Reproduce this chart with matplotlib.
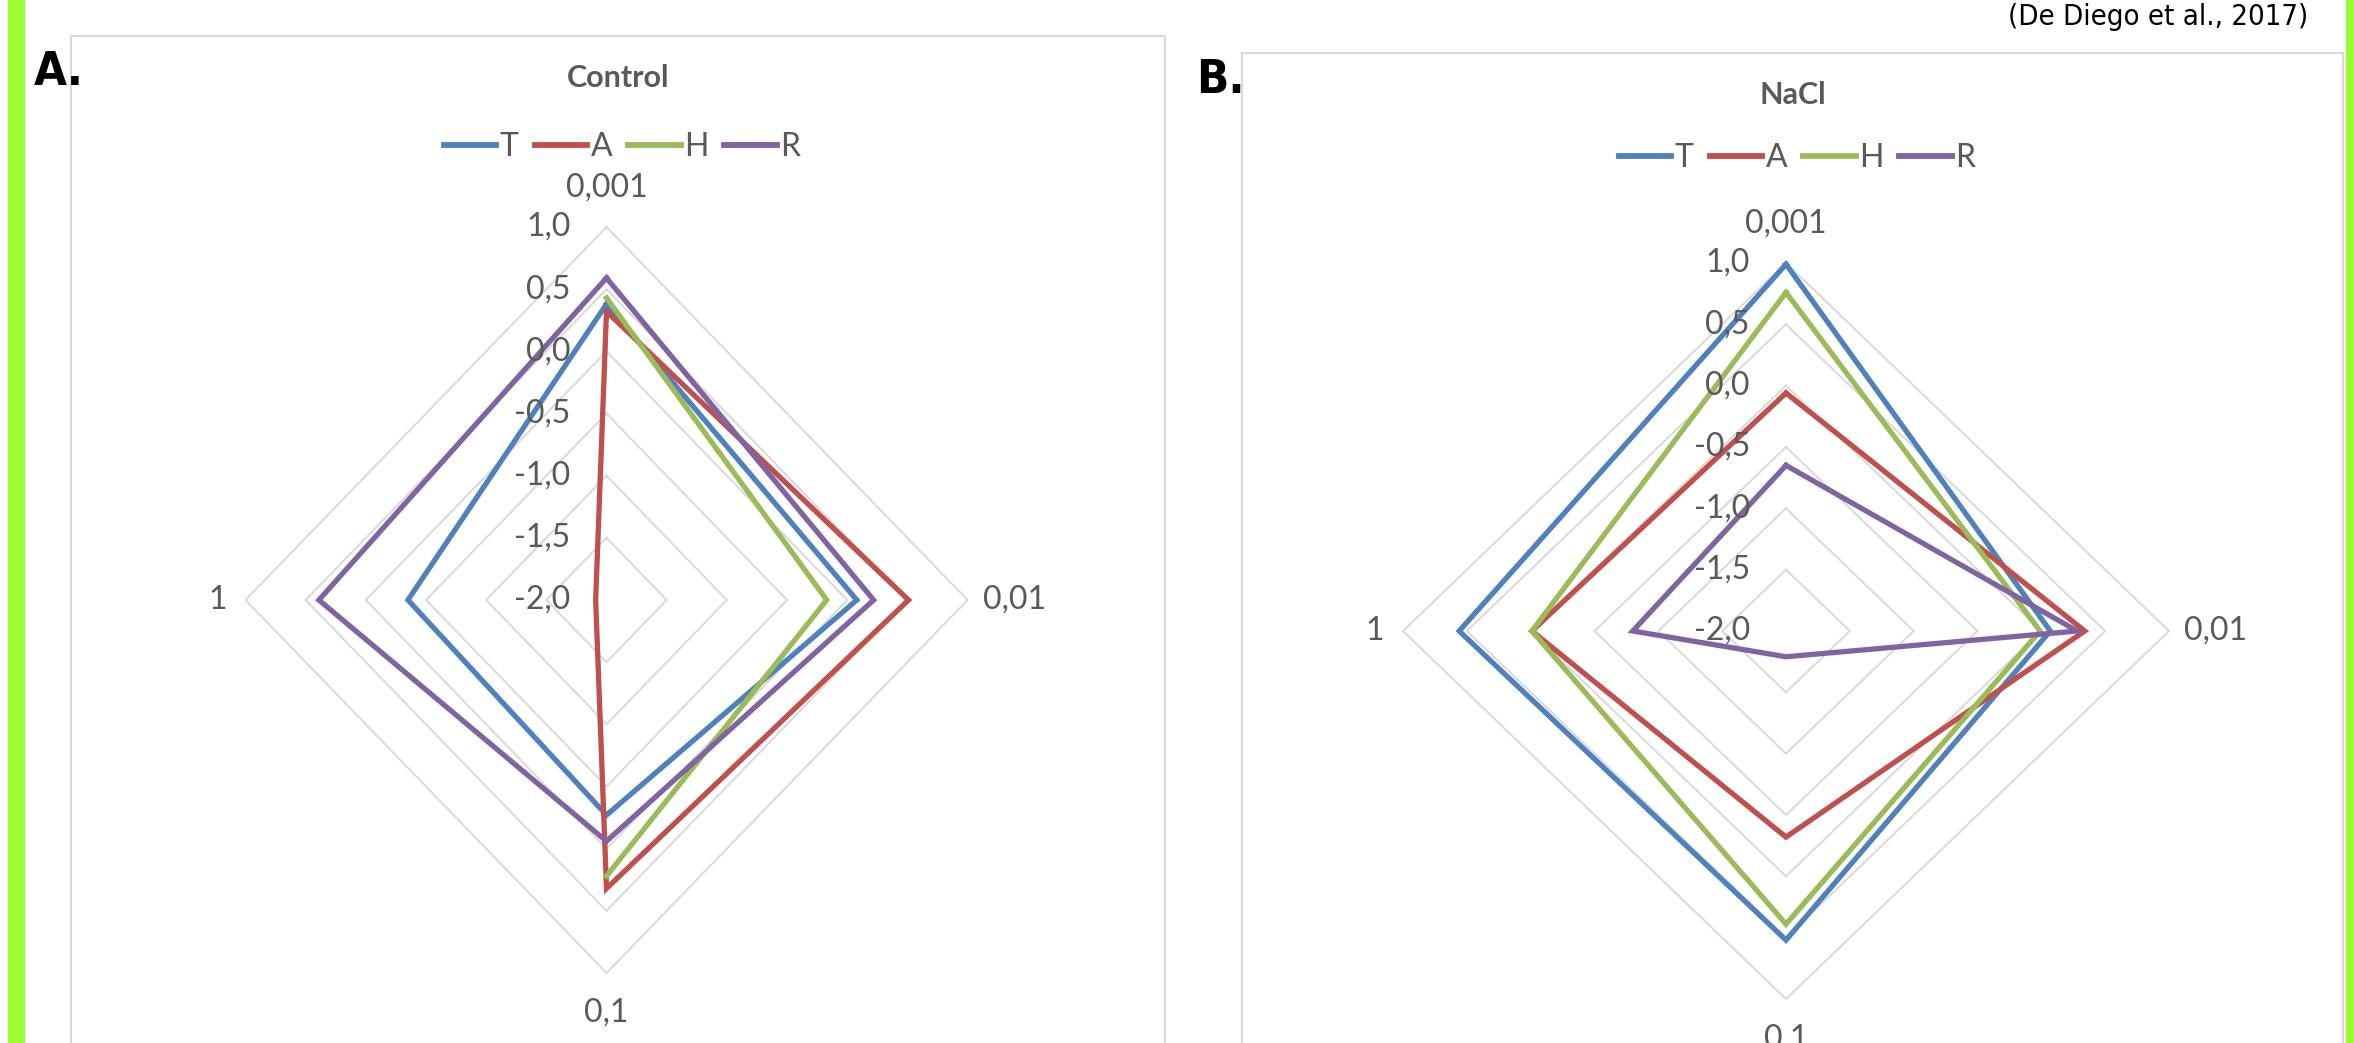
import numpy as np
import matplotlib.pyplot as plt
from matplotlib.patches import Rectangle

plt.rcParams['font.family'] = ['Lato', 'DejaVu Sans']

W, H = 2354, 1043

# data (axis minimum -2,0 at the centre)
categories = ['0,001', '0,01', '0,1', '1']
series = ['T', 'A', 'H', 'R']
colors = ['#4F81BD', '#C0504D', '#9BBB59', '#8064A2']

control_T = [0.38, 0.08, -0.27, -0.35]
control_A = [0.32, 0.51, 0.32, -1.91]
control_H = [0.43, -0.17, 0.22, np.nan]   # no value at "1"
control_R = [0.59, 0.22, -0.06, 0.39]

nacl_T = [0.99, 0.07, 0.52, 0.56]
nacl_A = [-0.06, 0.34, -0.32, -0.01]
nacl_H = [0.76, -0.01, 0.39, -0.01]
nacl_R = [-0.65, 0.28, -1.79, -0.80]

r_ticks = [-2.0, -1.5, -1.0, -0.5, 0.0, 0.5, 1.0]
r_ticklabels = ['-2,0', '-1,5', '-1,0', '-0,5', '0,0', '0,5', '1,0']

grey = '#595959'
gridgrey = '#D9D9D9'
lime = '#99FF33'


def fx(x):
    return x / W


def fy(y):
    return 1 - y / H


fig = plt.figure(figsize=(W / 100, H / 100), dpi=100)
fig.patch.set_facecolor('white')


def radar(cx, cy, rx, ry, title, data, title_pos, legend_pos):
    ax = fig.add_axes([fx(cx - rx), fy(cy + ry), 2 * rx / W, 2 * ry / H],
                      projection='polar')
    ax.set_aspect('auto')
    ax.set_theta_zero_location('N')
    ax.set_theta_direction(-1)
    theta = np.linspace(0, 2 * np.pi, len(categories) + 1)

    for v in r_ticks[1:]:
        ax.plot(theta, [v] * len(theta), color=gridgrey, lw=1.4, zorder=1,
                clip_on=False)

    for name, vals, c in zip(series, data, colors):
        ax.plot(theta, list(vals) + [vals[0]], color=c, lw=3.8, label=name,
                solid_joinstyle='miter', zorder=3, clip_on=False)

    ax.set_ylim(r_ticks[0], r_ticks[-1])
    ax.grid(False)
    ax.set_xticks([])
    ax.set_yticks([])
    ax.spines['polar'].set_visible(False)
    ax.patch.set_alpha(0)

    for v, lab in zip(r_ticks, r_ticklabels):
        ax.annotate(lab, xy=(0, v), xytext=(-36, 0), textcoords='offset pixels',
                    ha='right', va='center', fontsize=23, color=grey, zorder=4)

    offsets = [(0, 39, 'center'), (15, 0, 'left'), (0, -40, 'center'), (-19, 0, 'right')]
    for ang, cat, (dx, dy, ha) in zip(theta, categories, offsets):
        ax.annotate(cat, xy=(ang, r_ticks[-1]), xytext=(dx, dy),
                    textcoords='offset pixels', ha=ha, va='center',
                    fontsize=23, color=grey, annotation_clip=False)

    fig.text(fx(title_pos[0]), fy(title_pos[1]), title, ha='center', va='center',
             fontsize=22, fontweight='bold', color=grey)
    leg = ax.legend(loc='center', bbox_to_anchor=(fx(legend_pos[0]), fy(legend_pos[1])),
                    bbox_transform=fig.transFigure, ncol=4, frameon=False, fontsize=23,
                    handlelength=1.65, handletextpad=0.1, columnspacing=0.5,
                    labelcolor=grey)
    for h in leg.legend_handles:
        h.set_linewidth(4.2)
    return ax


# chart area frames
fig.add_artist(Rectangle((fx(71), fy(1060)), (1165 - 71) / W, (1060 - 36) / H,
                         transform=fig.transFigure, fill=False, ec=gridgrey, lw=1.5))
fig.add_artist(Rectangle((fx(1242), fy(1060)), (2343 - 1242) / W, (1060 - 53) / H,
                         transform=fig.transFigure, fill=False, ec=gridgrey, lw=1.5))

radar(606.5, 600, 361, 373, 'Control', [control_T, control_A, control_H, control_R],
      (618, 78), (622, 147))
radar(1786, 631, 383, 368, 'NaCl', [nacl_T, nacl_A, nacl_H, nacl_R],
      (1793, 95), (1797, 158))

# lime side bars
fig.add_artist(Rectangle((fx(8), 0), 17 / W, 1, transform=fig.transFigure,
                         color=lime, lw=0))
fig.add_artist(Rectangle((fx(2346), 0), 8 / W, 1, transform=fig.transFigure,
                         color=lime, lw=0))

fig.text(fx(34), fy(85), 'A.', ha='left', va='baseline', fontsize=34,
         fontweight='bold', fontstretch='condensed', family='DejaVu Sans', color='black')
fig.text(fx(1196), fy(93), 'B.', ha='left', va='baseline', fontsize=34,
         fontweight='bold', fontstretch='condensed', family='DejaVu Sans', color='black')
fig.text(fx(2308), fy(25), '(De Diego et al., 2017)', ha='right', va='baseline',
         fontsize=21, fontstretch='condensed', family='DejaVu Sans', color='black')

fig.savefig('out.png', dpi=100)
